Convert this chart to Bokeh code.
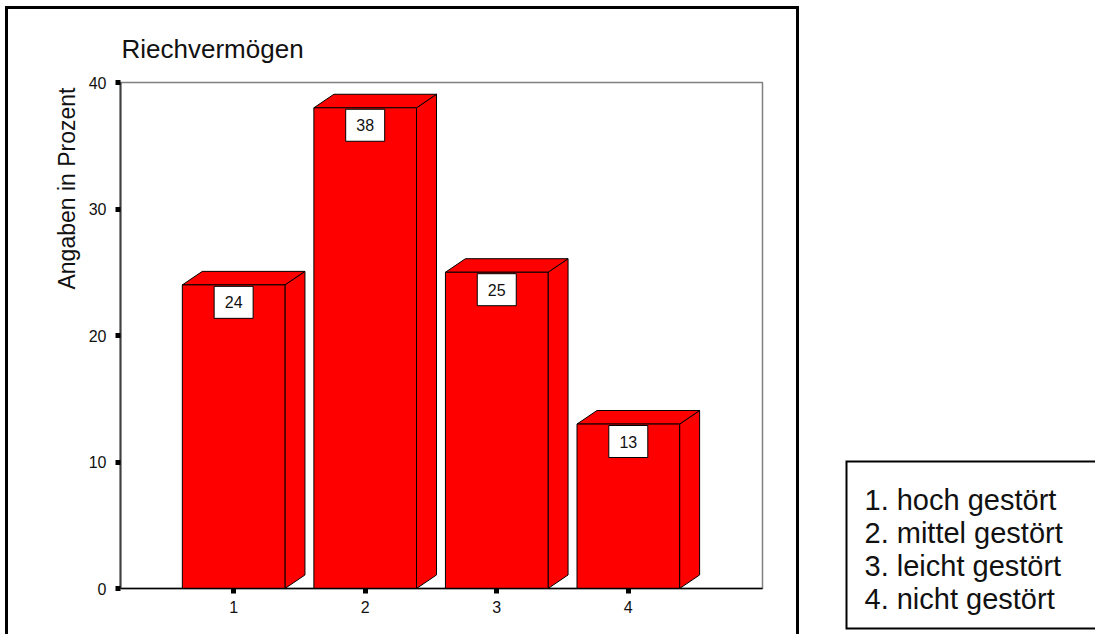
import numpy as np
from bokeh.plotting import figure
from bokeh.layouts import row
from bokeh.models import Range1d, FixedTicker, Title
from bokeh.core.properties import value
from bokeh.embed import file_html
from bokeh.resources import INLINE

# Chart data
categories = ["1", "2", "3", "4"]
percent = [24, 38, 25, 13]
y_ticks = [0, 10, 20, 30, 40]
legend_lines = ["1. hoch gestört", "2. mittel gestört", "3. leicht gestört", "4. nicht gestört"]
title_text = "Riechvermögen"
y_label = "Angaben in Prozent"

FONT = "Liberation Sans"
RED = "#ff0000"
INK = "#111111"

# ---- main chart (framed by a 3px black border) ----
MW, MH = 788, 625
FL, FR, FT, FB = 112, 754, 73, 579  # plot frame edges inside the chart canvas

p = figure(
    width=MW, height=MH, output_backend="svg", toolbar_location=None,
    x_range=Range1d(0.14, 5.02), y_range=Range1d(0, 40),
    min_border_left=FL, min_border_right=MW - FR,
    min_border_top=FT, min_border_bottom=MH - FB,
)
p.frame_align = False
p.margin = (9, 0, 0, 8)
p.styles = {"box-shadow": "0 0 0 3px black"}
p.grid.visible = False
p.background_fill_color = "white"
p.border_fill_color = "white"
p.outline_line_color = "#808080"
p.outline_line_width = 1.5

p.title.text = title_text
p.title.align = "left"
p.title.offset = 1
p.title.standoff = 38
p.title.text_font = FONT
p.title.text_font_size = "26px"
p.title.text_font_style = "normal"
p.title.text_color = INK

p.add_layout(Title(text=y_label, align="right", offset=5, standoff=12,
                   text_font=FONT, text_font_size="23px", text_font_style="normal",
                   text_color=INK), "left")

# axes
for ax in (p.xaxis, p.yaxis):
    ax.major_tick_in = 0
    ax.major_tick_out = 5
    ax.major_tick_line_width = 5
    ax.major_tick_line_color = "black"
    ax.minor_tick_line_color = None
    ax.major_label_text_font = FONT
    ax.major_label_text_font_size = "16px"
    ax.major_label_text_color = INK

p.yaxis.ticker = FixedTicker(ticks=y_ticks)
p.yaxis.axis_line_color = "#404040"
p.yaxis.axis_line_width = 2
p.yaxis.major_label_standoff = 9

xpos = np.arange(1, len(categories) + 1)
p.xaxis.ticker = FixedTicker(ticks=list(xpos))
p.xaxis.major_label_overrides = {int(x): c for x, c in zip(xpos, categories)}
p.xaxis.axis_line_color = "black"
p.xaxis.axis_line_width = 1.5
p.xaxis.major_label_standoff = 7

# 3D bars: right side face, top face, then the front face
hw = 0.39     # half width of the front face (x units)
dx = 0.152    # depth offset to the right (x units)
dy = 1.07     # depth offset upwards (y units)
vals = np.array(percent, dtype=float)

side_xs = [[x + hw, x + hw + dx, x + hw + dx, x + hw] for x in xpos]
side_ys = [[v, v + dy, dy, 0] for v in vals]
top_xs = [[x - hw, x - hw + dx, x + hw + dx, x + hw] for x in xpos]
top_ys = [[v, v + dy, v + dy, v] for v in vals]

p.patches(side_xs, side_ys, fill_color=RED, line_color="black", line_width=1)
p.patches(top_xs, top_ys, fill_color=RED, line_color="black", line_width=1)
p.quad(left=xpos - hw, right=xpos + hw, bottom=0, top=vals,
       fill_color=RED, line_color="black", line_width=1)

# value boxes just under the top edge of each bar
box_y = vals - 1.38
p.rect(x=xpos, y=box_y, width=39, height=32, width_units="screen", height_units="screen",
       fill_color="white", line_color="black", line_width=1)
p.text(x=xpos, y=box_y, text=[str(int(v)) for v in vals],
       text_align="center", text_baseline="middle",
       text_font=value(FONT), text_font_size="16px", text_color=INK)

# ---- category key to the right (pixel coordinates, y downwards) ----
LW, LH = 296, 631
key = figure(
    width=LW, height=LH, output_backend="svg", toolbar_location=None,
    x_range=Range1d(0, LW), y_range=Range1d(LH, 0),
    x_axis_location=None, y_axis_location=None,
    min_border=0, min_border_left=0, min_border_right=0,
    min_border_top=0, min_border_bottom=0,
)
key.frame_align = False
key.margin = (0, 0, 0, 3)
key.grid.visible = False
key.outline_line_color = None
key.background_fill_color = "white"
key.border_fill_color = "white"

# open-ended box: left, top and bottom edges (runs off the right edge)
key.line(x=[LW + 20, 47, 47, LW + 20], y=[461, 461, 628, 628],
         line_color="black", line_width=2, line_join="miter")
key_x = [65] * len(legend_lines)
key_y = [499 + 33 * i for i in range(len(legend_lines))]
key.text(x=key_x, y=key_y, text=legend_lines, text_baseline="alphabetic",
         text_font=value(FONT), text_font_size="29px", text_color=INK)

layout = row(p, key, spacing=0)
open("out.html", "w").write(file_html(layout, INLINE))
